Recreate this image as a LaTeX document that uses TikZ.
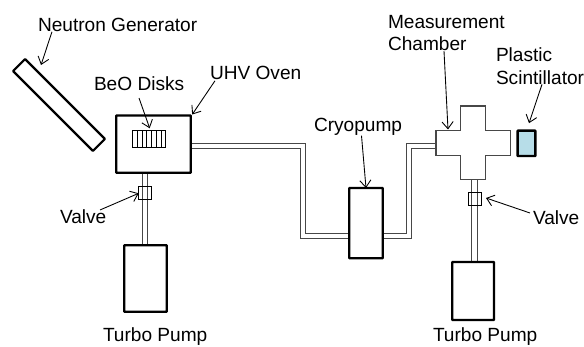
\documentclass[tikz,border=0pt]{standalone}
\usepackage{fontspec}
\setmainfont{Liberation Sans}
\usepackage{xcolor}
\usetikzlibrary{arrows.meta,fit}
\definecolor{scintblue}{RGB}{183,221,232}

\begin{document}
\begin{tikzpicture}[x=0.03cm,y=-0.03cm,
 vessel/.style={draw=black,line width=1.9pt,fill=white,inner sep=0pt,outer sep=0pt,rounded corners=0.4pt},
 valvebox/.style={draw=black,line width=0.75pt,inner sep=0pt,outer sep=0pt},
 pipe/.style={draw=black!72,double=white,line width=0.85pt,double distance=3.2pt},
 lbl/.style={inner sep=0pt,outer sep=0pt,anchor=west,align=left,font=\fontsize{16.3}{19.4}\selectfont},
 arr/.style={-{Straight Barb[length=6pt,width=9.5pt]},line width=0.75pt}]
\useasboundingbox (0,0) rectangle (584,347);
% pipe bends
\coordinate (bendA) at (302.65,146.3);
\coordinate (bendB) at (302.65,235.65);
\coordinate (bendC) at (409,235.65);
\coordinate (bendD) at (409,146);
\coordinate (lineL) at (145,190);
\coordinate (lineR) at (474.4,190);
% vessels
\node[vessel,minimum width=3.39cm,minimum height=0.51cm,rotate=-45] (generator) at (59,105) {};
\node[inner sep=0pt,outer sep=0pt,fit={(436,106)(510.3,179.7)}] (chamber) {};
\node[inner sep=0pt,outer sep=0pt,fit={(116.3,115.5)(190.7,172.8)}] (ovenline) {};
\node[inner sep=0pt,outer sep=0pt,fit={(349.3,188)(382.7,258.3)}] (cryoline) {};
\node[inner sep=0pt,outer sep=0pt,fit={(124.3,245.3)(166.7,311.7)}] (pumpLline) {};
\node[inner sep=0pt,outer sep=0pt,fit={(452.3,262)(494,320)}] (pumpRline) {};
% pipes
\draw[pipe] (ovenline.east |- bendA) -- (bendA) -- (bendB) -- (cryoline.west |- bendB);
\draw[pipe] (cryoline.east |- bendC) -- (bendC) -- (bendD) -- (chamber.west |- bendD);
\draw[pipe,double distance=3.8pt] (lineL |- ovenline.south) -- (lineL |- pumpLline.north);
\draw[pipe,double distance=4.3pt] (lineR |- chamber.south) -- (lineR |- pumpRline.north);
\node[vessel,fit={(116.3,115.5)(190.7,172.8)}] (oven) {};
\node[vessel,fit={(349.3,188)(382.7,258.3)}] (cryopump) {};
\node[vessel,fit={(124.3,245.3)(166.7,311.7)}] (pumpL) {};
\node[vessel,fit={(452.3,262)(494,320)}] (pumpR) {};
\node[vessel,line width=2.1pt,fill=scintblue,fit={(517.7,130.7)(535.3,156)}] (scint) {};
\node[valvebox,fit={(138.7,186.3)(151.3,199.3)}] (valveL) {};
\node[valvebox,fit={(468,192.7)(481,205.3)}] (valveR) {};
\draw[black!72,line width=1.05pt,fill=white] (436,130.7) -- (460.7,130.7) -- (460.7,106) -- (485.3,106)
 -- (485.3,130.7) -- (510.3,130.7) -- (510.3,155.3) -- (485.3,155.3) -- (485.3,179.7) -- (460.7,179.7)
 -- (460.7,155.3) -- (436,155.3) -- cycle;
% BeO stack
\node[valvebox,fit={(132.7,130.3)(165.7,147.7)}] (disks) {};
\foreach \i in {1,...,6}
 \draw[line width=0.7pt] (132.7+\i*4.71,130.3) -- (132.7+\i*4.71,147.7);
% labels
\node[lbl] (lblgen) at (38,25) {Neutron Generator};
\node[lbl] (lbldisks) at (94,84) {BeO Disks};
\node[lbl] (lbloven) at (210,73) {UHV Oven};
\node[lbl] (lblcryo) at (314,127) {Cryopump};
\node[lbl] (lblchamber) at (388,33) {Measurement\\Chamber};
\node[lbl] (lblscint) at (496,66) {Plastic\\Scintillator};
\node[lbl] (lblvalveL) at (60,217) {Valve};
\node[lbl] (lblvalveR) at (533,218) {Valve};
\node[lbl] (lblpumpL) at (103,337) {Turbo Pump};
\node[lbl] (lblpumpR) at (433,337) {Turbo Pump};
% arrows
\draw[arr] ([xshift=14*0.03cm]lblgen.south west) -- (41,65);
\draw[arr] ([xshift=45*0.03cm,yshift=-7*0.03cm]lbldisks.south west) -- ([xshift=17*0.03cm,yshift=2*0.03cm]disks.north west);
\draw[arr] ([xshift=5*0.03cm,yshift=-1*0.03cm]lbloven.south west) -- ([xshift=1.5*0.03cm,yshift=1*0.03cm]oven.north east);
\draw[arr] ([xshift=47.5*0.03cm]lblcryo.south west) -- (cryopump.north);
\draw[arr] ([xshift=56*0.03cm]lblchamber.south west) -- (448,129.5);
\draw[arr] ([xshift=46*0.03cm]lblscint.south west) -- ([xshift=2.5*0.03cm,yshift=7.5*0.03cm]scint.north);
\draw[arr] ([xshift=40*0.03cm]lblvalveL.north west) -- ([yshift=-0.5*0.03cm]valveL.west);
\draw[arr] ([xshift=-3*0.03cm,yshift=5*0.03cm]lblvalveR.west) -- ([xshift=5*0.03cm,yshift=1*0.03cm]valveR.east);
\end{tikzpicture}
\end{document}
